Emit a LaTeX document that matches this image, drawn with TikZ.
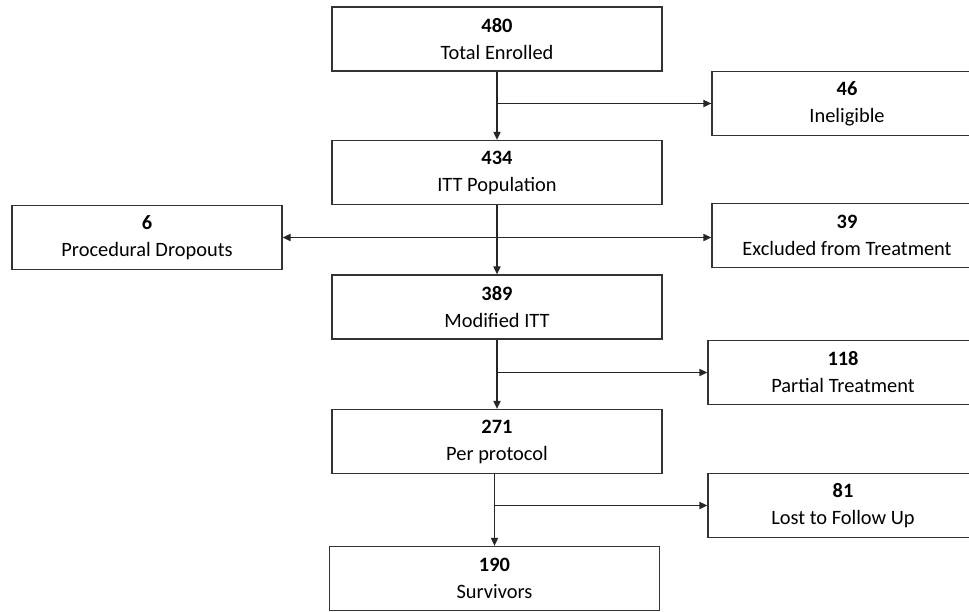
\documentclass[tikz,border=0pt]{standalone}
\usepackage{fontspec}
\setmainfont{Carlito}
\usetikzlibrary{arrows.meta}

\begin{document}
\begin{tikzpicture}[
  x=0.5pt,y=-0.5pt,
  stage/.style={rectangle,draw=black!80,line width=.65pt,minimum width=165pt,minimum height=32pt,align=center,inner sep=0pt,font=\fontsize{10.2}{13.5}\selectfont,text=black},
  side/.style={stage,minimum width=135pt},
  arc/.style={-{Triangle[length=4pt,width=3.6pt]},draw=black!85,line width=.65pt}
]
\useasboundingbox (0,0) rectangle (969,611);
\clip (0,0) rectangle (969,611);
\node[stage] (enrolled) at (497,39) {\textbf{480}\\Total Enrolled};
\node[side] (inel) at (847,103.5) {\textbf{46}\\Ineligible};
\node[stage] (itt) at (497,172.5) {\textbf{434}\\ITT Population};
\node[side] (proc) at (147,237.5) {\textbf{6}\\Procedural Dropouts};
\node[side] (excl) at (847,235.5) {\textbf{39}\\Excluded from Treatment};
\node[stage] (mitt) at (497,307) {\textbf{389}\\Modified ITT};
\node[side] (partial) at (843,372.5) {\textbf{118}\\Partial Treatment};
\node[stage] (pp) at (497,441.5) {\textbf{271}\\Per protocol};
\node[side] (lost) at (843,505.5) {\textbf{81}\\Lost to Follow Up};
\node[stage] (surv) at (494.5,578.5) {\textbf{190}\\Survivors};

\draw[arc] (enrolled) -- (itt);
\draw[arc] (enrolled.south |- inel.west) -- (inel.west);
\draw[arc] (itt) -- (mitt);
\draw[arc,{Triangle[length=4pt,width=3.6pt]}-{Triangle[length=4pt,width=3.6pt]}] (proc.east) -- (proc.east -| excl.west);
\draw[arc] (mitt) -- (pp);
\draw[arc] (mitt.south |- partial.west) -- (partial.west);
\draw[arc] (surv.north |- pp.south) -- (surv.north);
\draw[arc] (surv.north |- lost.west) -- (lost.west);
\end{tikzpicture}
\end{document}
